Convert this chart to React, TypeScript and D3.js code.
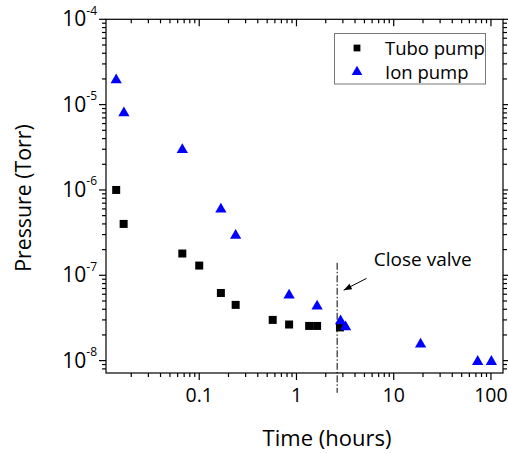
import * as d3 from 'd3'
import { useEffect, useRef } from 'react';

// hours, Torr
const turboTime = [0.014, 0.0167, 0.067, 0.1, 0.167, 0.237, 0.57, 0.84, 1.35, 1.63, 2.8];
const turboPressure = [1e-6, 4e-7, 1.8e-7, 1.3e-7, 6.2e-8, 4.5e-8, 3e-8, 2.65e-8, 2.55e-8, 2.55e-8, 2.45e-8];
const ionTime = [0.014, 0.0168, 0.067, 0.167, 0.237, 0.84, 1.63, 2.84, 3.2, 18.9, 73, 101];
const ionPressure = [2e-5, 8.2e-6, 3.05e-6, 6.1e-7, 3e-7, 6e-8, 4.45e-8, 3e-8, 2.55e-8, 1.6e-8, 1e-8, 1e-8];

const xMajor = [0.1, 1, 10, 100];
const xMajorLabels = ["0.1", "1", "10", "100"];
const yMajor = [1e-8, 1e-7, 1e-6, 1e-5, 1e-4];
const yMajorExp = ["-8", "-7", "-6", "-5", "-4"];

const seriesNames = ["Tubo pump", "Ion pump"];

// annotation: valve closed
const valveTime = 2.62;
const valveLine = [1.4e-7, 4.2e-9];
const arrowFrom = [5.25, 9.2e-8];
const arrowTo = [3.06, 6.7e-8];
const noteAt = [6.24, 1.28e-7];
const noteText = "Close valve";

function draw(svgEl: SVGSVGElement) {
    const svg = d3.select(svgEl);
    svg.selectAll("*").remove();
    const font = "'Open Sans', sans-serif";

    const left = 106, right = 503, top = 19.3, bottom = 373;
    const x = d3.scaleLog().domain([0.011, 133]).range([left, right]);
    const y = d3.scaleLog().domain([Math.pow(10, -8.145), 1e-4]).range([bottom, top]);

    // minor ticks
    const minors = (dom: number[]) => {
        const out: number[] = [];
        for (let e = -10; e <= 3; e++) for (let m = 2; m <= 9; m++) {
            const v = m * Math.pow(10, e);
            if (v >= dom[0] && v <= dom[1]) out.push(v);
        }
        return out;
    };
    const xMin = minors(x.domain());
    const yMin = minors(y.domain());

    const ax = svg.append("g").attr("stroke", "#000").attr("stroke-width", 1.2).attr("fill", "none");
    ax.append("rect").attr("x", left).attr("y", top).attr("width", right - left).attr("height", bottom - top);

    // bottom (outward) and top (inward)
    ax.selectAll(".xb").data(xMajor).enter().append("line")
        .attr("x1", d => x(d)).attr("x2", d => x(d)).attr("y1", bottom).attr("y2", bottom + 7);
    ax.selectAll(".xbm").data(xMin).enter().append("line")
        .attr("x1", d => x(d)).attr("x2", d => x(d)).attr("y1", bottom).attr("y2", bottom + 4);
    ax.selectAll(".xt").data(xMajor).enter().append("line")
        .attr("x1", d => x(d)).attr("x2", d => x(d)).attr("y1", top).attr("y2", top + 7);
    ax.selectAll(".xtm").data(xMin).enter().append("line")
        .attr("x1", d => x(d)).attr("x2", d => x(d)).attr("y1", top).attr("y2", top + 4);

    // left (outward) and right (outward)
    ax.selectAll(".yl").data(yMajor).enter().append("line")
        .attr("y1", d => y(d)).attr("y2", d => y(d)).attr("x1", left).attr("x2", left - 7);
    ax.selectAll(".ylm").data(yMin).enter().append("line")
        .attr("y1", d => y(d)).attr("y2", d => y(d)).attr("x1", left).attr("x2", left - 4);
    ax.selectAll(".yr").data(yMajor).enter().append("line")
        .attr("y1", d => y(d)).attr("y2", d => y(d)).attr("x1", right).attr("x2", right + 7);
    ax.selectAll(".yrm").data(yMin).enter().append("line")
        .attr("y1", d => y(d)).attr("y2", d => y(d)).attr("x1", right).attr("x2", right + 4);

    // tick labels
    svg.selectAll(".xlab").data(xMajor).enter().append("text")
        .attr("x", d => x(d)).attr("y", bottom + 29)
        .attr("text-anchor", "middle").attr("font-family", font).attr("font-size", 19.5)
        .text((d, i) => xMajorLabels[i]);

    const yl = svg.selectAll(".ylab").data(yMajor).enter().append("text")
        .attr("x", left - 9).attr("y", d => y(d) + 7)
        .attr("text-anchor", "end").attr("font-family", font).attr("font-size", 21);
    yl.append("tspan").text("10");
    yl.append("tspan").attr("dy", -11.5).attr("font-size", 12).text((d, i) => yMajorExp[i]);

    // axis titles
    svg.append("text").attr("x", 327).attr("y", 446).attr("text-anchor", "middle")
        .attr("font-family", font).attr("font-size", 22).text("Time (hours)");
    svg.append("text").attr("transform", "translate(30.5, 198) rotate(-90)").attr("text-anchor", "middle")
        .attr("font-family", font).attr("font-size", 21.3).text("Pressure (Torr)");

    // annotation
    svg.append("line").attr("x1", x(valveTime)).attr("x2", x(valveTime))
        .attr("y1", y(valveLine[0])).attr("y2", y(valveLine[1]))
        .attr("stroke", "#000").attr("stroke-width", 1).attr("stroke-dasharray", "7,2,1.5,2");
    const ax0 = x(arrowFrom[0]), ay0 = y(arrowFrom[1]), ax1 = x(arrowTo[0]), ay1 = y(arrowTo[1]);
    svg.append("line").attr("x1", ax0).attr("y1", ay0).attr("x2", ax1).attr("y2", ay1)
        .attr("stroke", "#000").attr("stroke-width", 1);
    const ang = Math.atan2(ay1 - ay0, ax1 - ax0);
    const hl = 8, hw = 3;
    const bx = ax1 - hl * Math.cos(ang), by = ay1 - hl * Math.sin(ang);
    svg.append("path")
        .attr("d", `M${ax1},${ay1}L${bx + hw * Math.sin(ang)},${by - hw * Math.cos(ang)}L${bx - hw * Math.sin(ang)},${by + hw * Math.cos(ang)}Z`)
        .attr("fill", "#000");
    svg.append("text").attr("x", x(noteAt[0])).attr("y", y(noteAt[1]))
        .attr("font-family", font).attr("font-size", 19).text(noteText);

    // data
    const sq = d3.symbol(d3.symbolSquare, 64);
    const tri = d3.symbol(d3.symbolTriangle, 55);
    const turbo = d3.zip(turboTime, turboPressure);
    const ion = d3.zip(ionTime, ionPressure);
    svg.append("g").selectAll("path").data(turbo).enter().append("path")
        .attr("d", sq).attr("transform", d => `translate(${x(d[0])},${y(d[1])})`).attr("fill", "#000");
    svg.append("g").selectAll("path").data(ion).enter().append("path")
        .attr("d", tri).attr("transform", d => `translate(${x(d[0])},${y(d[1]) + 1})`).attr("fill", "#0000ff");

    // legend
    const lg = svg.append("g");
    lg.append("rect").attr("x", 334.5).attr("y", 33.5).attr("width", 151).attr("height", 50.5)
        .attr("fill", "#fff").attr("stroke", "#777").attr("stroke-width", 1);
    lg.append("path").attr("d", d3.symbol(d3.symbolSquare, 46)).attr("transform", "translate(357,48)").attr("fill", "#000");
    lg.append("path").attr("d", d3.symbol(d3.symbolTriangle, 50)).attr("transform", "translate(357,72)").attr("fill", "#0000ff");
    lg.selectAll("text").data(seriesNames).enter().append("text")
        .attr("x", 385).attr("y", (d, i) => 54.5 + i * 24)
        .attr("font-family", font).attr("font-size", 18.5).text(d => d);
}

export default function App() {
    const ref = useRef<SVGSVGElement>(null);
    useEffect(() => {
        if (ref.current) draw(ref.current);
    }, []);
    return (
        <svg ref={ref} width={508} height={454}
            style={{ position: "absolute", left: 0, top: 0, background: "#fff" }}>
        </svg>
    );
}
